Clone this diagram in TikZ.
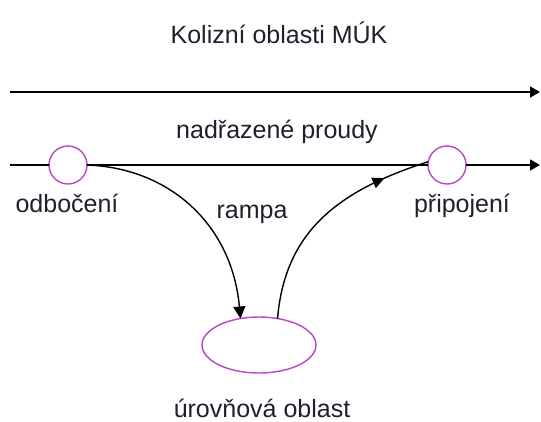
\documentclass[tikz,border=0pt]{standalone}
\usepackage{fontspec}
\setmainfont{Liberation Sans}
\usetikzlibrary{arrows.meta,shapes.geometric,decorations.markings}
\definecolor{ringcol}{RGB}{185,70,195}
\definecolor{txtcol}{RGB}{35,30,45}
\tikzset{
  lbl/.style={anchor=base,text=txtcol,inner sep=0pt,font=\fontsize{25}{30}\selectfont},
  ring/.style={circle,draw=ringcol,line width=1.4pt,fill=white,minimum size=38pt,inner sep=0pt,outer sep=0pt},
  pool/.style={ellipse,draw=ringcol,line width=1.4pt,minimum width=114pt,minimum height=56pt,inner sep=0pt,outer sep=0pt},
  flow/.style={line width=1.8pt,-{Triangle[length=10pt,width=11pt]}},
  plain/.style={line width=1.8pt},
  ramp/.style={line width=1.4pt},
}
\begin{document}
\begin{tikzpicture}[x=1pt,y=-1pt]
\useasboundingbox (0,0) rectangle (541,421);
% texts
\node[lbl] (title) at (279,43) {Kolizní oblasti MÚK};
\node[lbl] (main) at (277,138) {nadřazené proudy};
\node[lbl] (offl) at (67,212) {odbočení};
\node[lbl] (onl) at (462,212) {připojení};
\node[lbl] (rampl) at (252,218) {rampa};
\node[lbl] (pooll) at (262,417) {úrovňová oblast};
% main streams
\coordinate (s1) at (10,92);
\coordinate (e1) at (540,92);
\coordinate (s2) at (10,165);
\coordinate (e2) at (540,165);
\node[ring] (c1) at (68,165) {};
\node[ring] (c2) at (447,165) {};
\node[pool] (ell) at (259,345) {};
\draw[flow] (s1) -- (e1);
\draw[plain] (s2) -- (c1);
\draw[plain] (c1) -- (c2);
\draw[flow] (c2) -- (e2);
% ramp curves
\draw[ramp,-{Triangle[length=12pt,width=12pt]}] (c1.east) .. controls (170,168) and (232,225) .. (ell.125);
\draw[ramp,decoration={markings,mark=at position 0.8 with {\arrow{Triangle[length=12pt,width=11pt]}}},postaction={decorate}]
  (ell.55) .. controls (285,230) and (340,190) .. (c2.170);
\end{tikzpicture}
\end{document}
